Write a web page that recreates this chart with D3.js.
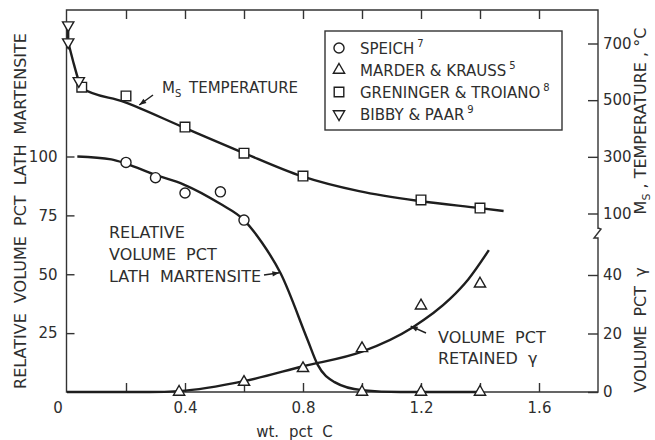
<!DOCTYPE html>
<html><head><meta charset="utf-8">
<script src="https://cdn.jsdelivr.net/npm/d3@7"></script>
<style>
html,body{margin:0;padding:0;background:#fff;}
svg{display:block;font-family:"DejaVu Sans",sans-serif;}
</style></head><body>
<svg id="chart" width="655" height="440"></svg>
<script>
// ticks and tick labels
const xTicks = [0.2, 0.4, 0.6, 0.8, 1.0, 1.2, 1.4, 1.6];
const xLabelVals = [0.4, 0.8, 1.2, 1.6];
const xLabels = ["0.4", "0.8", "1.2", "1.6"];
const lathTicks = [25, 50, 75, 100];
const msTicks = [100, 300, 500, 700];
const gammaTicks = [0, 20, 40];

// Speich: relative volume pct lath martensite
const speichC = [0.2, 0.3, 0.4, 0.52, 0.6];
const speichLath = [97.5, 91, 84.5, 85, 73];
// Marder & Krauss: lath martensite and retained austenite
const mkLathC = [1.0, 1.2, 1.4];
const mkLath = [0, 0, 0];
const mkGammaC = [0.38, 0.6, 0.8, 1.0, 1.2, 1.4];
const mkGamma = [0, 3.4, 8.1, 14.9, 29.5, 37];
// Greninger & Troiano: Ms temperature, deg C
const gtC = [0.05, 0.2, 0.4, 0.6, 0.8, 1.2, 1.4];
const gtMs = [546, 515, 405, 313, 232, 148, 119];
// Bibby & Paar: Ms temperature, deg C
const bpC = [0.004, 0.004, 0.04];
const bpMs = [765, 705, 568];

// drawn trend curves
const msCurveC = [0.004, 0.02, 0.04, 0.05, 0.193, 0.393, 0.592, 0.795, 0.99, 1.195, 1.40, 1.48];
const msCurve = [705, 640, 568, 543, 494, 405, 317, 232, 179, 144, 119, 109];
const lathCurveC = [0.035, 0.15, 0.2, 0.294, 0.396, 0.518, 0.6, 0.66, 0.724, 0.816, 0.85, 0.907, 1.0, 1.13, 1.4];
const lathCurve = [100, 98.8, 97, 92.4, 88.1, 80, 73, 63.6, 50.4, 22, 11.5, 4.2, 0.8, 0, 0];
const gammaCurveC = [0, 0.28, 0.38, 0.6, 0.8, 1.0, 1.17, 1.3, 1.36, 1.43];
const gammaCurve = [0, 0, 0.3, 3.7, 8.8, 13.8, 22, 32, 38.5, 48.5];

const legendNames = ["SPEICH", "MARDER & KRAUSS", "GRENINGER & TROIANO", "BIBBY & PAAR"];
const legendRefs = ["7", "5", "8", "9"];

const INK = "#1e1e1e", TXT = "#2e2e2e";
const svg = d3.select("#chart");
const L = 67, R = 598, T = 10, B = 392;

const x = d3.scaleLinear([0, 1.8], [L, R]);
const yLath = d3.scaleLinear([0, 100], [B, 156.5]);
const yMs = d3.scaleLinear([100, 700], [213.5, 43.5]);
const yGam = d3.scaleLinear([0, 40], [B, 275]);

const zip = (a, b) => a.map((v, i) => [v, b[i]]);

// frame with a break in the right axis
const brk = 229;
svg.append("path")
  .attr("d", `M${R},${brk} L${R},${T} L${L - 0.5},${T} L${L - 0.5},${B} L${R},${B} L${R},${brk + 9} L${R - 4},${brk + 9} L${R + 3},${brk} L${R},${brk - 1}`)
  .attr("fill", "none").attr("stroke", "#333").attr("stroke-width", 1.4);

function styleAxis(g) {
  g.select(".domain").remove();
  g.selectAll("line").attr("stroke", "#333").attr("stroke-width", 1.4);
  g.selectAll("text").attr("fill", TXT).attr("font-size", 15)
    .attr("font-family", "DejaVu Sans, sans-serif");
}

svg.append("g").attr("transform", `translate(0,${B})`)
  .call(d3.axisBottom(x).tickValues(xTicks).tickSizeInner(-9).tickSizeOuter(0).tickPadding(10)
    .tickFormat(d => { const i = xLabelVals.findIndex(v => Math.abs(v - d) < 1e-9); return i < 0 ? "" : xLabels[i]; }))
  .call(styleAxis);
svg.append("g").attr("transform", `translate(0,${T})`)
  .call(d3.axisTop(x).tickValues(xTicks).tickSizeInner(-9).tickSizeOuter(0).tickFormat(""))
  .call(styleAxis);
svg.append("g").attr("transform", `translate(${L - 0.5},0)`)
  .call(d3.axisLeft(yLath).tickValues(lathTicks).tickSizeInner(-8).tickSizeOuter(0).tickPadding(9))
  .call(styleAxis);
svg.append("g").attr("transform", `translate(${R},0)`)
  .call(d3.axisRight(yMs).tickValues(msTicks).tickSizeInner(-10).tickSizeOuter(0).tickPadding(5))
  .call(styleAxis);
svg.append("g").attr("transform", `translate(${R},0)`)
  .call(d3.axisRight(yGam).tickValues(gammaTicks).tickSizeInner(-10).tickSizeOuter(0).tickPadding(5))
  .call(styleAxis);

// shared origin label
svg.append("text").attr("x", x(0) - 9).attr("y", B + 21).attr("text-anchor", "middle")
  .attr("font-size", 15).attr("fill", TXT).text("0");

// axis titles
svg.append("text").attr("transform", `translate(26,211) rotate(-90)`).attr("text-anchor", "middle")
  .attr("font-size", 16).attr("fill", TXT).style("word-spacing", "5px")
  .text("RELATIVE VOLUME PCT LATH MARTENSITE");
svg.append("text").attr("x", (L + R) / 2 - 38).attr("y", 437).attr("text-anchor", "middle")
  .attr("font-size", 15).attr("fill", TXT).style("word-spacing", "5px").text("wt. pct C");
const rt = svg.append("text").attr("transform", `translate(646,121) rotate(-90)`).attr("text-anchor", "middle")
  .attr("font-size", 16).attr("fill", TXT);
rt.append("tspan").text("M");
rt.append("tspan").attr("font-size", 11).attr("dy", 4).text("S");
rt.append("tspan").attr("dy", -4).text(" , TEMPERATURE , °C");
svg.append("text").attr("transform", `translate(646,330) rotate(-90)`).attr("text-anchor", "middle")
  .attr("font-size", 16).attr("fill", TXT).style("word-spacing", "4px").text("VOLUME PCT γ");

// curves
const lineGen = d3.line().x(d => x(d[0])).curve(d3.curveMonotoneX);
svg.append("path").attr("d", d3.line()([[x(bpC[0]), yMs(bpMs[0])], [x(bpC[1]), yMs(bpMs[1])]]))
  .attr("stroke", INK).attr("stroke-width", 2.4).attr("fill", "none");
svg.append("path").datum(zip(msCurveC, msCurve)).attr("d", lineGen.y(d => yMs(d[1])))
  .attr("stroke", INK).attr("stroke-width", 2.4).attr("fill", "none");
svg.append("path").datum(zip(lathCurveC, lathCurve)).attr("d", lineGen.y(d => yLath(d[1])))
  .attr("stroke", INK).attr("stroke-width", 2.4).attr("fill", "none");
svg.append("path").datum(zip(gammaCurveC, gammaCurve)).attr("d", lineGen.y(d => yGam(d[1])))
  .attr("stroke", INK).attr("stroke-width", 2.4).attr("fill", "none");

// markers
const symCircle = d3.symbol(d3.symbolCircle, 80)();
const symTri = d3.symbol(d3.symbolTriangle, 55)();
const symSq = d3.symbol(d3.symbolSquare, 92)();
function marks(cs, vs, yS, sym, rot) {
  svg.append("g").selectAll("path").data(zip(cs, vs)).join("path")
    .attr("d", sym)
    .attr("transform", d => `translate(${x(d[0])},${yS(d[1])})` + (rot ? " rotate(180)" : ""))
    .attr("fill", "#fff").attr("stroke", INK).attr("stroke-width", 1.4);
}
marks(speichC, speichLath, yLath, symCircle);
marks(mkLathC, mkLath, yLath, symTri);
marks(mkGammaC, mkGamma, yGam, symTri);
marks(gtC, gtMs, yMs, symSq);
marks(bpC, bpMs, yMs, symTri, true);

// annotations with arrows
function arrow(x1, y1, x2, y2) {
  svg.append("line").attr("x1", x1).attr("y1", y1).attr("x2", x2).attr("y2", y2)
    .attr("stroke", INK).attr("stroke-width", 1.5);
  const a = Math.atan2(y2 - y1, x2 - x1), l = 7, w = 2.6;
  const p = [[x2, y2],
    [x2 - l * Math.cos(a) + w * Math.sin(a), y2 - l * Math.sin(a) - w * Math.cos(a)],
    [x2 - l * Math.cos(a) - w * Math.sin(a), y2 - l * Math.sin(a) + w * Math.cos(a)]];
  svg.append("path").attr("d", d3.line()(p) + "Z").attr("fill", INK);
}
const ms = svg.append("text").attr("x", 162).attr("y", 93).attr("font-size", 15).attr("fill", TXT);
ms.append("tspan").text("M");
ms.append("tspan").attr("font-size", 10).attr("dy", 4).text("S");
ms.append("tspan").attr("x", 189).attr("dy", -4).text("TEMPERATURE");
arrow(153, 95, x(0.245), yMs(483));

const lab = svg.append("g").attr("font-size", 16).attr("fill", TXT);
lab.append("text").attr("x", 109).attr("y", 238).text("RELATIVE");
lab.append("text").attr("x", 109).attr("y", 260).style("word-spacing", "5px").text("VOLUME PCT");
lab.append("text").attr("x", 109).attr("y", 282).style("word-spacing", "5px").text("LATH MARTENSITE");
arrow(264, 275, x(0.72), yLath(50.6));

const gl = svg.append("g").attr("font-size", 16).attr("fill", TXT);
gl.append("text").attr("x", 438).attr("y", 343).style("word-spacing", "5px").text("VOLUME PCT");
gl.append("text").attr("x", 438).attr("y", 364).style("word-spacing", "5px").text("RETAINED γ");
arrow(426, 333, x(1.165), yGam(22.5));

// legend
const lg = svg.append("g");
lg.append("rect").attr("x", 325).attr("y", 31).attr("width", 237).attr("height", 99)
  .attr("fill", "#fff").attr("stroke", "#333").attr("stroke-width", 1.4);
const legSyms = [[symCircle, false], [symTri, false], [symSq, false], [symTri, true]];
legendNames.forEach((name, i) => {
  const cy = 48 + i * 22;
  lg.append("path").attr("d", legSyms[i][0])
    .attr("transform", `translate(339,${cy})` + (legSyms[i][1] ? " rotate(180)" : ""))
    .attr("fill", "#fff").attr("stroke", INK).attr("stroke-width", 1.4);
  const t = lg.append("text").attr("x", 360).attr("y", cy + 6).attr("font-size", 15).attr("fill", TXT);
  t.append("tspan").text(name);
  t.append("tspan").attr("font-size", 10).attr("dx", 3).attr("dy", -7).text(legendRefs[i]);
});
</script>
</body></html>
